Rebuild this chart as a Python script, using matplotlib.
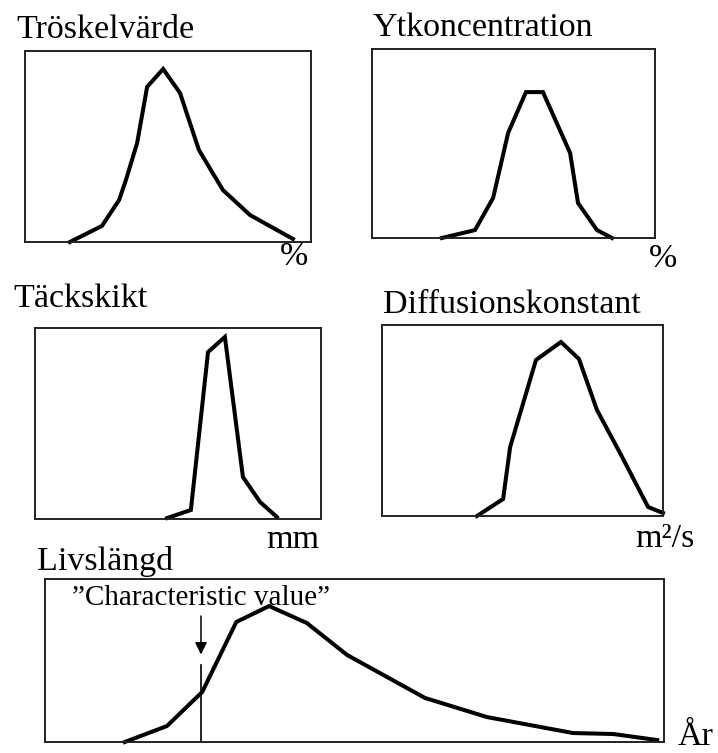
import matplotlib
matplotlib.use("Agg")
import matplotlib.pyplot as plt

plt.rcParams['font.family'] = ['Liberation Serif', 'DejaVu Serif']

W, H = 718, 753

# --- data (x and y in relative units 0-100) ---
trosk_x = [15.7, 26.9, 32.9, 35.3, 39.2, 42.7, 48.3, 54.2, 60.8, 69.2, 78.7, 93.7]
trosk_y = [0.0, 8.4, 22.0, 32.5, 51.8, 81.2, 90.6, 78.0, 48.2, 27.2, 14.1, 1.6]

ytk_x = [24.7, 36.4, 42.8, 48.1, 54.4, 60.4, 70.0, 72.8, 79.5, 84.8]
ytk_y = [0.0, 4.2, 21.2, 55.6, 77.2, 77.2, 45.0, 18.5, 4.2, 0.0]

tack_x = [46.2, 54.5, 60.5, 66.4, 72.7, 78.7, 84.6]
tack_y = [0.5, 4.7, 87.4, 95.3, 22.0, 8.9, 1.0]

diff_x = [33.8, 43.1, 45.6, 54.8, 63.7, 70.1, 76.5, 84.7, 94.7, 100.0]
diff_y = [0.0, 8.9, 36.1, 81.7, 91.1, 82.2, 55.5, 33.0, 4.7, 1.6]

livs_x = [12.9, 19.7, 25.4, 30.9, 36.2, 42.3, 48.8, 61.4, 71.4, 85.3, 91.8, 98.9]
livs_y = [0.0, 9.8, 30.7, 73.6, 83.4, 73.0, 53.4, 27.0, 15.3, 5.5, 4.9, 1.2]

char_x = 25.2
char_line_top = 47.0

panels = [
    ("Tröskelvärde", trosk_x, trosk_y, (25, 51, 311, 242), (16, 38)),
    ("Ytkoncentration", ytk_x, ytk_y, (372, 49, 655, 238), (373, 36)),
    ("Täckskikt", tack_x, tack_y, (35, 328, 321, 519), (13, 307)),
    ("Diffusionskonstant", diff_x, diff_y, (382, 325, 663, 516), (383, 313)),
    ("Livslängd", livs_x, livs_y, (45, 579, 664, 742), (37, 570)),
]

units = [("%", 294, 265, 'center'), ("%", 663, 267, 'center'),
         ("mm", 319, 548, 'right'), ("m²/s", 695, 547, 'right'),
         ("År", 714, 745, 'right')]


def fx(px):
    return px / W


def fy(py):
    return 1 - py / H


fig = plt.figure(figsize=(W / 100, H / 100), dpi=100)
fig.patch.set_facecolor('white')

axes = []
for title, xs, ys, (l, t, r, b), (tx, ty) in panels:
    ax = fig.add_axes([fx(l), fy(b), (r - l) / W, (b - t) / H])
    ax.plot(xs, ys, color='black', lw=2.9, solid_joinstyle='miter', clip_on=False)
    ax.set_xlim(0, 100)
    ax.set_ylim(0, 100)
    ax.set_xticks([])
    ax.set_yticks([])
    for s in ax.spines.values():
        s.set_linewidth(1.4)
        s.set_color('#222222')
    fig.text(fx(tx), fy(ty), title, fontsize=24.5, ha='left', va='baseline')
    axes.append(ax)

for txt, x, y, ha in units:
    fig.text(fx(x), fy(y), txt, fontsize=24.5, ha=ha, va='baseline')

# characteristic value marker
ax = axes[-1]
ax.plot([char_x, char_x], [0, char_line_top], color='black', lw=1.2)
ax.annotate("", xy=(char_x, 52), xytext=(char_x, 79),
            arrowprops=dict(arrowstyle='-|>', color='black', lw=1.1, mutation_scale=18))
ax.text(char_x, 84, "”Characteristic value”", fontsize=21, ha='center', va='baseline')

fig.savefig("out.png", dpi=100, facecolor='white')
